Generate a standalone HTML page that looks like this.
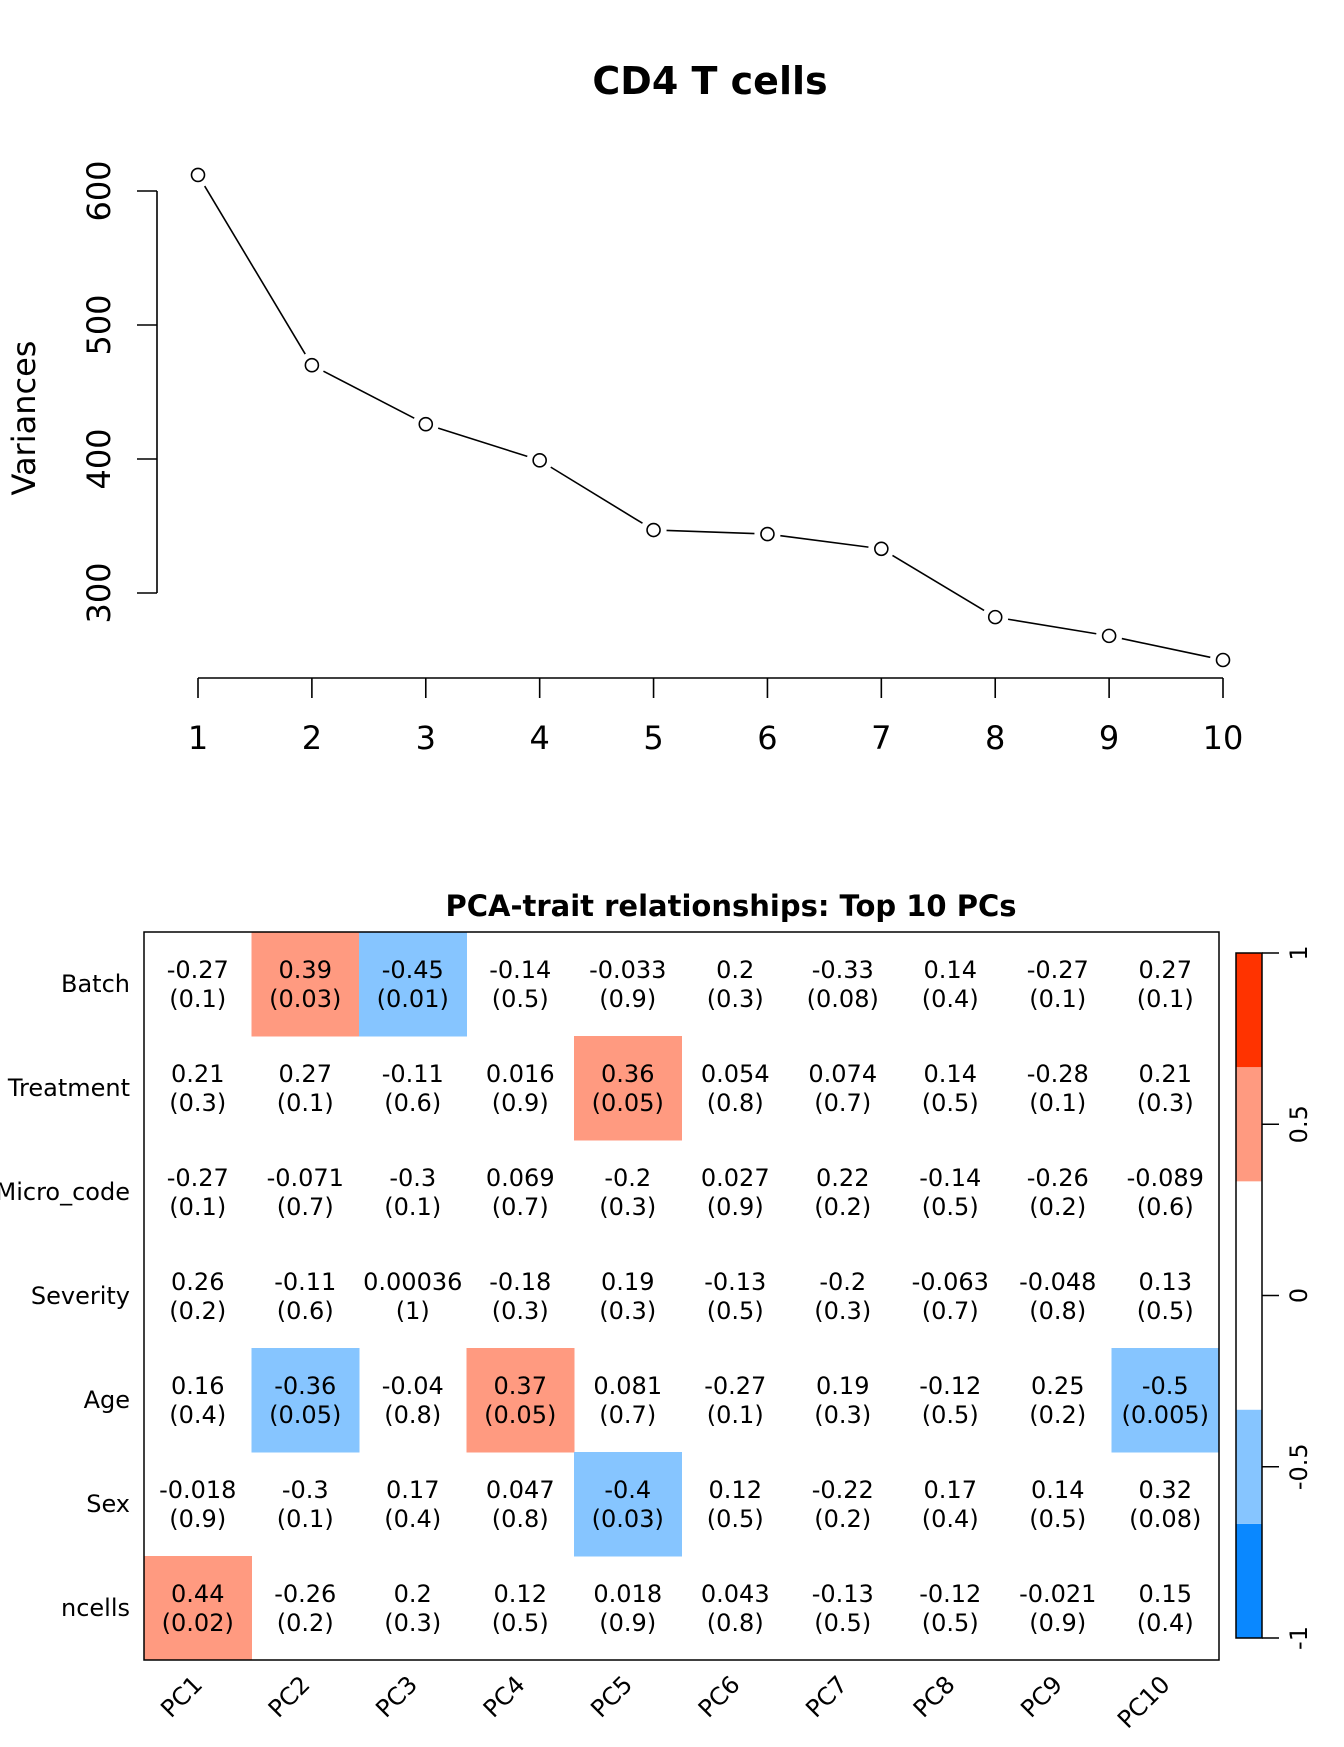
<!DOCTYPE html>
<html><head><meta charset="utf-8"><style>
html,body{margin:0;padding:0;background:#fff;}
svg{display:block;font-family:"DejaVu Sans","Liberation Sans",sans-serif;}
</style></head><body>
<svg id="root" width="1344" height="1747" viewBox="0 0 1344 1747" xmlns="http://www.w3.org/2000/svg">
<text x="710" y="94" text-anchor="middle" font-size="38" font-weight="bold">CD4 T cells</text>
<text transform="translate(35,418) rotate(-90)" text-anchor="middle" font-size="32">Variances</text>
<g id="scree"></g>
<text x="731" y="916" text-anchor="middle" font-size="29" font-weight="bold">PCA-trait relationships: Top 10 PCs</text>
<g id="heat"></g>
<g id="cbar"></g>
</svg>
<script>
const pcs = [1,2,3,4,5,6,7,8,9,10];
const variances = [612,470,426,399,347,344,333,282,268,250];
const yTicks = [300,400,500,600];
const traits = ["Batch","Treatment","Micro_code","Severity","Age","Sex","ncells"];
const pcLabels = ["PC1","PC2","PC3","PC4","PC5","PC6","PC7","PC8","PC9","PC10"];
const corr = [
 [-0.27,0.39,-0.45,-0.14,-0.033,0.2,-0.33,0.14,-0.27,0.27],
 [0.21,0.27,-0.11,0.016,0.36,0.054,0.074,0.14,-0.28,0.21],
 [-0.27,-0.071,-0.3,0.069,-0.2,0.027,0.22,-0.14,-0.26,-0.089],
 [0.26,-0.11,0.00036,-0.18,0.19,-0.13,-0.2,-0.063,-0.048,0.13],
 [0.16,-0.36,-0.04,0.37,0.081,-0.27,0.19,-0.12,0.25,-0.5],
 [-0.018,-0.3,0.17,0.047,-0.4,0.12,-0.22,0.17,0.14,0.32],
 [0.44,-0.26,0.2,0.12,0.018,0.043,-0.13,-0.12,-0.021,0.15]];
const pvals = [
 ["0.1","0.03","0.01","0.5","0.9","0.3","0.08","0.4","0.1","0.1"],
 ["0.3","0.1","0.6","0.9","0.05","0.8","0.7","0.5","0.1","0.3"],
 ["0.1","0.7","0.1","0.7","0.3","0.9","0.2","0.5","0.2","0.6"],
 ["0.2","0.6","1","0.3","0.3","0.5","0.3","0.7","0.8","0.5"],
 ["0.4","0.05","0.8","0.05","0.7","0.1","0.3","0.5","0.2","0.005"],
 ["0.9","0.1","0.4","0.8","0.03","0.5","0.2","0.4","0.5","0.08"],
 ["0.02","0.2","0.3","0.5","0.9","0.8","0.5","0.5","0.9","0.4"]];
const cbTicks = [-1,-0.5,0,0.5,1];
const cbBins = [-1,-2/3,-1/3,1/3,2/3,1];
const cbColors = ["#0A88FF","#86C5FF","#FFFFFF","#FF9A80","#FF3300"];

const NS="http://www.w3.org/2000/svg";
function mk(tag,attrs,parent,txt){const e=document.createElementNS(NS,tag);for(const k in attrs)e.setAttribute(k,attrs[k]);if(txt!==undefined)e.textContent=txt;parent.appendChild(e);return e;}

// scree
const scree=document.getElementById('scree');
const sx=i=>198+(i-1)*(1223-198)/9;
const sy=v=>593+(300-v)*(593-191)/300;
let pts=pcs.map((p,i)=>[sx(p),sy(variances[i])]);
for(let i=0;i<pts.length-1;i++){
  const [x1,y1]=pts[i],[x2,y2]=pts[i+1];const dx=x2-x1,dy=y2-y1,L=Math.hypot(dx,dy),g=13;
  const seg=mk('line',{x1:x1+dx*g/L,y1:y1+dy*g/L,x2:x2-dx*g/L,y2:y2-dy*g/L,stroke:'#000','stroke-width':1.6},scree);
  
  
}
pts.forEach(([x,y])=>{
  const c=mk('circle',{cx:x,cy:y,r:6.5,fill:'none',stroke:'#000','stroke-width':1.6},scree);
  
  
});
const ya=mk('line',{x1:157,y1:sy(600),x2:157,y2:sy(300),stroke:'#000','stroke-width':1.6},scree);


yTicks.forEach(t=>{
  mk('line',{x1:137,y1:sy(t),x2:157,y2:sy(t),stroke:'#000','stroke-width':1.6},scree);
  const tl=mk('text',{transform:`translate(110,${sy(t)}) rotate(-90)`,'text-anchor':'middle','font-size':32},scree,String(t));
  
  
});
const xa=mk('line',{x1:sx(1),y1:678,x2:sx(10),y2:678,stroke:'#000','stroke-width':1.6},scree);


pcs.forEach(p=>{
  mk('line',{x1:sx(p),y1:678,x2:sx(p),y2:698,stroke:'#000','stroke-width':1.6},scree);
  const tl=mk('text',{x:sx(p),y:749,'text-anchor':'middle','font-size':32},scree,String(p));
  
  
});

// heatmap
const heat=document.getElementById('heat');
const X0=144,X1=1219,Y0=932,Y1=1660;
const cw=(X1-X0)/pcLabels.length, ch=(Y1-Y0)/traits.length;
function colorFor(v){for(let i=0;i<cbColors.length;i++){if(v<=cbBins[i+1]+1e-9)return cbColors[i];}return cbColors[cbColors.length-1];}
traits.forEach((tr,r)=>{
  pcLabels.forEach((pc,c)=>{
    const v=corr[r][c];const col=colorFor(v);
    const x=X0+c*cw,y=Y0+r*ch;
    if(col!=="#FFFFFF"){
      const rc=mk('rect',{x:x,y:y,width:cw+0.5,height:ch+0.5,fill:col},heat);
      
      
    }
    const t1=mk('text',{x:x+cw/2,y:y+ch/2-6,'text-anchor':'middle','font-size':24},heat,String(v));
    
    
    const t2=mk('text',{x:x+cw/2,y:y+ch/2+23,'text-anchor':'middle','font-size':24},heat,'('+pvals[r][c]+')');
    
    
  });
  const rl=mk('text',{x:130,y:Y0+r*ch+ch/2+8,'text-anchor':'end','font-size':24},heat,tr);
  
  
});
const box=mk('rect',{x:X0,y:Y0,width:X1-X0,height:Y1-Y0,fill:'none',stroke:'#000','stroke-width':1.5},heat);


pcLabels.forEach((pc,c)=>{
  const cx=X0+c*cw+cw/2+6;
  const cl=mk('text',{transform:`translate(${cx},1686) rotate(-45)`,'text-anchor':'end','font-size':24},heat,pc);
  
  
});

// colorbar
const cbar=document.getElementById('cbar');
const CB0=953,CB1=1638,CX0=1236,CX1=1262;
const cy=v=>CB1-(v+1)/2*(CB1-CB0);
cbColors.forEach((col,i)=>{
  const rc=mk('rect',{x:CX0,y:cy(cbBins[i+1]),width:CX1-CX0,height:cy(cbBins[i])-cy(cbBins[i+1]),fill:col},cbar);
  
  
});
mk('rect',{x:CX0,y:CB0,width:CX1-CX0,height:CB1-CB0,fill:'none',stroke:'#000','stroke-width':1.5},cbar);
cbTicks.forEach(t=>{
  mk('line',{x1:CX1,y1:cy(t),x2:1279,y2:cy(t),stroke:'#000','stroke-width':1.5},cbar);
  const tl=mk('text',{transform:`translate(1307,${cy(t)}) rotate(-90)`,'text-anchor':'middle','font-size':24},cbar,String(t));
  
  
});
</script>
</body></html>
